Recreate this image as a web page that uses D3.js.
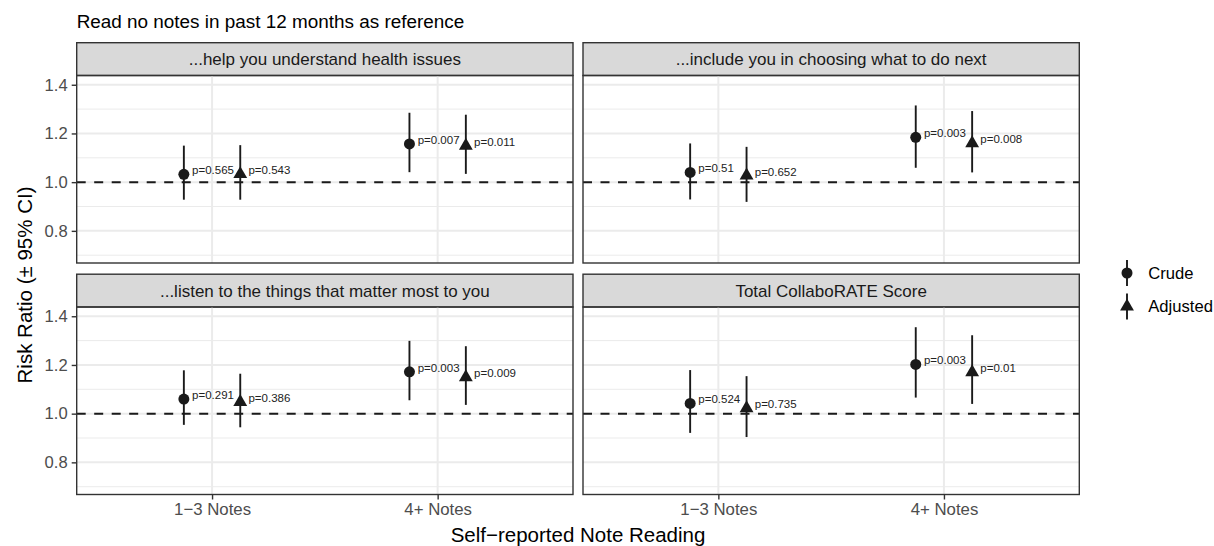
<!DOCTYPE html>
<html>
<head>
<meta charset="utf-8">
<script src="https://cdn.jsdelivr.net/npm/d3@7"></script>
<style>
  body { margin: 0; background: #fff; }
  svg { font-family: "Liberation Sans", Arial, Helvetica, sans-serif; }
</style>
</head>
<body>
<svg width="1214" height="546"></svg>
<script>
// values
const facets = ["...help you understand health issues", "...include you in choosing what to do next",
                "...listen to the things that matter most to you", "Total CollaboRATE Score"];
const groups = ["1\u22123 Notes", "4+ Notes"];
const models = ["Crude", "Adjusted"];

const crudeEst  = [[1.032, 1.157], [1.040, 1.184], [1.060, 1.172], [1.042, 1.202]];
const crudeLow  = [[0.928, 1.041], [0.929, 1.059], [0.954, 1.055], [0.921, 1.066]];
const crudeHigh = [[1.150, 1.285], [1.159, 1.315], [1.178, 1.299], [1.179, 1.355]];
const crudeP    = [["0.565", "0.007"], ["0.51", "0.003"], ["0.291", "0.003"], ["0.524", "0.003"]];

const adjEst  = [[1.033, 1.150], [1.027, 1.160], [1.048, 1.150], [1.022, 1.170]];
const adjLow  = [[0.928, 1.034], [0.919, 1.040], [0.944, 1.036], [0.904, 1.040]];
const adjHigh = [[1.152, 1.277], [1.145, 1.292], [1.164, 1.277], [1.154, 1.322]];
const adjP    = [["0.543", "0.011"], ["0.652", "0.008"], ["0.386", "0.009"], ["0.735", "0.01"]];

const yTicks = [0.8, 1.0, 1.2, 1.4];
const yMinor = [0.7, 0.9, 1.1, 1.3];

const svg = d3.select("svg");
const ink = "#1a1a1a";

// panel geometry
const panelLeft = [76.7, 583];
const panelTop = [75.5, 307];
const pw = 496.3, ph = 187.5, stripH = 32.8;

const x = d3.scalePoint().domain(groups).range([0, pw]).padding(0.6);
const y = d3.scaleLinear().domain([0.668, 1.438]).range([ph, 0]);
const dodge = d3.scalePoint().domain(models).range([-0.125, 0.125]);

const triangle = d3.symbol().type(d3.symbolTriangle).size(83);

var rows = [];
facets.forEach(function (f, i) {
    groups.forEach(function (g, j) {
        rows.push({facet: i, group: g, model: "Crude", est: crudeEst[i][j], lo: crudeLow[i][j], hi: crudeHigh[i][j], p: crudeP[i][j]});
        rows.push({facet: i, group: g, model: "Adjusted", est: adjEst[i][j], lo: adjLow[i][j], hi: adjHigh[i][j], p: adjP[i][j]});
    });
});

// title
svg.append("text")
    .attr("x", 76.7).attr("y", 28.3)
    .style("font-size", "18.9px").style("fill", "#000")
    .text("Read no notes in past 12 months as reference");

facets.forEach(function (f, i) {
    var col = i % 2, row = Math.floor(i / 2);
    var g = svg.append("g").attr("transform", "translate(" + panelLeft[col] + "," + panelTop[row] + ")");

    // strip
    g.append("rect")
        .attr("x", 0).attr("y", -stripH).attr("width", pw).attr("height", stripH)
        .attr("fill", "#d9d9d9").attr("stroke", "#333").attr("stroke-width", 1.4);
    g.append("text")
        .attr("x", pw / 2).attr("y", -stripH / 2)
        .attr("dy", "0.35em").attr("text-anchor", "middle")
        .style("font-size", "17px").style("fill", "#1a1a1a")
        .text(f);

    // grid
    g.selectAll(".minor").data(yMinor).enter().append("line")
        .attr("x1", 0).attr("x2", pw)
        .attr("y1", d => y(d)).attr("y2", d => y(d))
        .attr("stroke", "#ebebeb").attr("stroke-width", 1);
    g.selectAll(".major").data(yTicks).enter().append("line")
        .attr("x1", 0).attr("x2", pw)
        .attr("y1", d => y(d)).attr("y2", d => y(d))
        .attr("stroke", "#ebebeb").attr("stroke-width", 2);
    g.selectAll(".vgrid").data(groups).enter().append("line")
        .attr("x1", d => x(d)).attr("x2", d => x(d))
        .attr("y1", 0).attr("y2", ph)
        .attr("stroke", "#ebebeb").attr("stroke-width", 2);

    // reference line
    g.append("line")
        .attr("x1", 0).attr("x2", pw)
        .attr("y1", y(1)).attr("y2", y(1))
        .attr("stroke", ink).attr("stroke-width", 2)
        .attr("stroke-dasharray", "9,8.5");

    var d = rows.filter(r => r.facet === i);
    var cx = r => x(r.group) + dodge(r.model) * x.step();

    g.selectAll(".ci").data(d).enter().append("line")
        .attr("x1", cx).attr("x2", cx)
        .attr("y1", r => y(r.lo)).attr("y2", r => y(r.hi))
        .attr("stroke", ink).attr("stroke-width", 1.9);

    g.selectAll(".crude").data(d.filter(r => r.model === "Crude")).enter().append("circle")
        .attr("cx", cx).attr("cy", r => y(r.est)).attr("r", 5.5)
        .attr("fill", ink);
    g.selectAll(".adj").data(d.filter(r => r.model === "Adjusted")).enter().append("path")
        .attr("d", triangle)
        .attr("transform", r => "translate(" + cx(r) + "," + y(r.est) + ")")
        .attr("fill", ink);

    g.selectAll(".plab").data(d).enter().append("text")
        .attr("x", r => cx(r) + 8.2).attr("y", r => y(r.est))
        .style("font-size", "11.5px").style("fill", "#222")
        .text(r => "p=" + r.p);

    // panel border
    g.append("rect")
        .attr("width", pw).attr("height", ph)
        .attr("fill", "none").attr("stroke", "#333").attr("stroke-width", 1.4);

    if (col === 0) {
        var ya = g.append("g").call(d3.axisLeft(y).tickValues(yTicks).tickFormat(d3.format(".1f")).tickSize(5).tickPadding(4));
        ya.select(".domain").remove();
        ya.selectAll("line").attr("stroke", "#333").attr("stroke-width", 1.4);
        ya.selectAll("text").style("font-size", "16.6px").style("fill", "#4d4d4d")
            .style("font-family", "'Liberation Sans', Arial, sans-serif");
    }
    if (row === 1) {
        var xa = g.append("g").attr("transform", "translate(0," + ph + ")")
            .call(d3.axisBottom(x).tickSize(5).tickPadding(4));
        xa.select(".domain").remove();
        xa.selectAll("line").attr("stroke", "#333").attr("stroke-width", 1.4);
        xa.selectAll("text").style("font-size", "16.8px").style("fill", "#4d4d4d")
            .style("font-family", "'Liberation Sans', Arial, sans-serif");
    }
});

// axis titles
svg.append("text")
    .attr("x", (panelLeft[0] + panelLeft[1] + pw) / 2).attr("y", 542)
    .attr("text-anchor", "middle")
    .style("font-size", "20.5px").style("fill", "#000")
    .text("Self\u2212reported Note Reading");

svg.append("text")
    .attr("transform", "translate(31.5," + (panelTop[0] + panelTop[1] + ph) / 2 + ") rotate(-90)")
    .attr("text-anchor", "middle")
    .style("font-size", "20.5px").style("fill", "#000")
    .text("Risk Ratio (\u00b1 95% CI)");

// legend
const legendY = d3.scalePoint().domain(models).range([273, 306.5]);
var lg = svg.append("g");
models.forEach(function (m) {
    var ly = legendY(m);
    lg.append("line")
        .attr("x1", 1127).attr("x2", 1127).attr("y1", ly - 13).attr("y2", ly + 13)
        .attr("stroke", ink).attr("stroke-width", 1.9);
    if (m === "Crude") {
        lg.append("circle").attr("cx", 1127).attr("cy", ly).attr("r", 5.5).attr("fill", ink);
    } else {
        lg.append("path").attr("d", triangle).attr("transform", "translate(1127," + ly + ")").attr("fill", ink);
    }
    lg.append("text")
        .attr("x", 1148.3).attr("y", ly).attr("dy", "0.35em")
        .style("font-size", "16.6px").style("fill", "#000")
        .text(m);
});
</script>
</body>
</html>
